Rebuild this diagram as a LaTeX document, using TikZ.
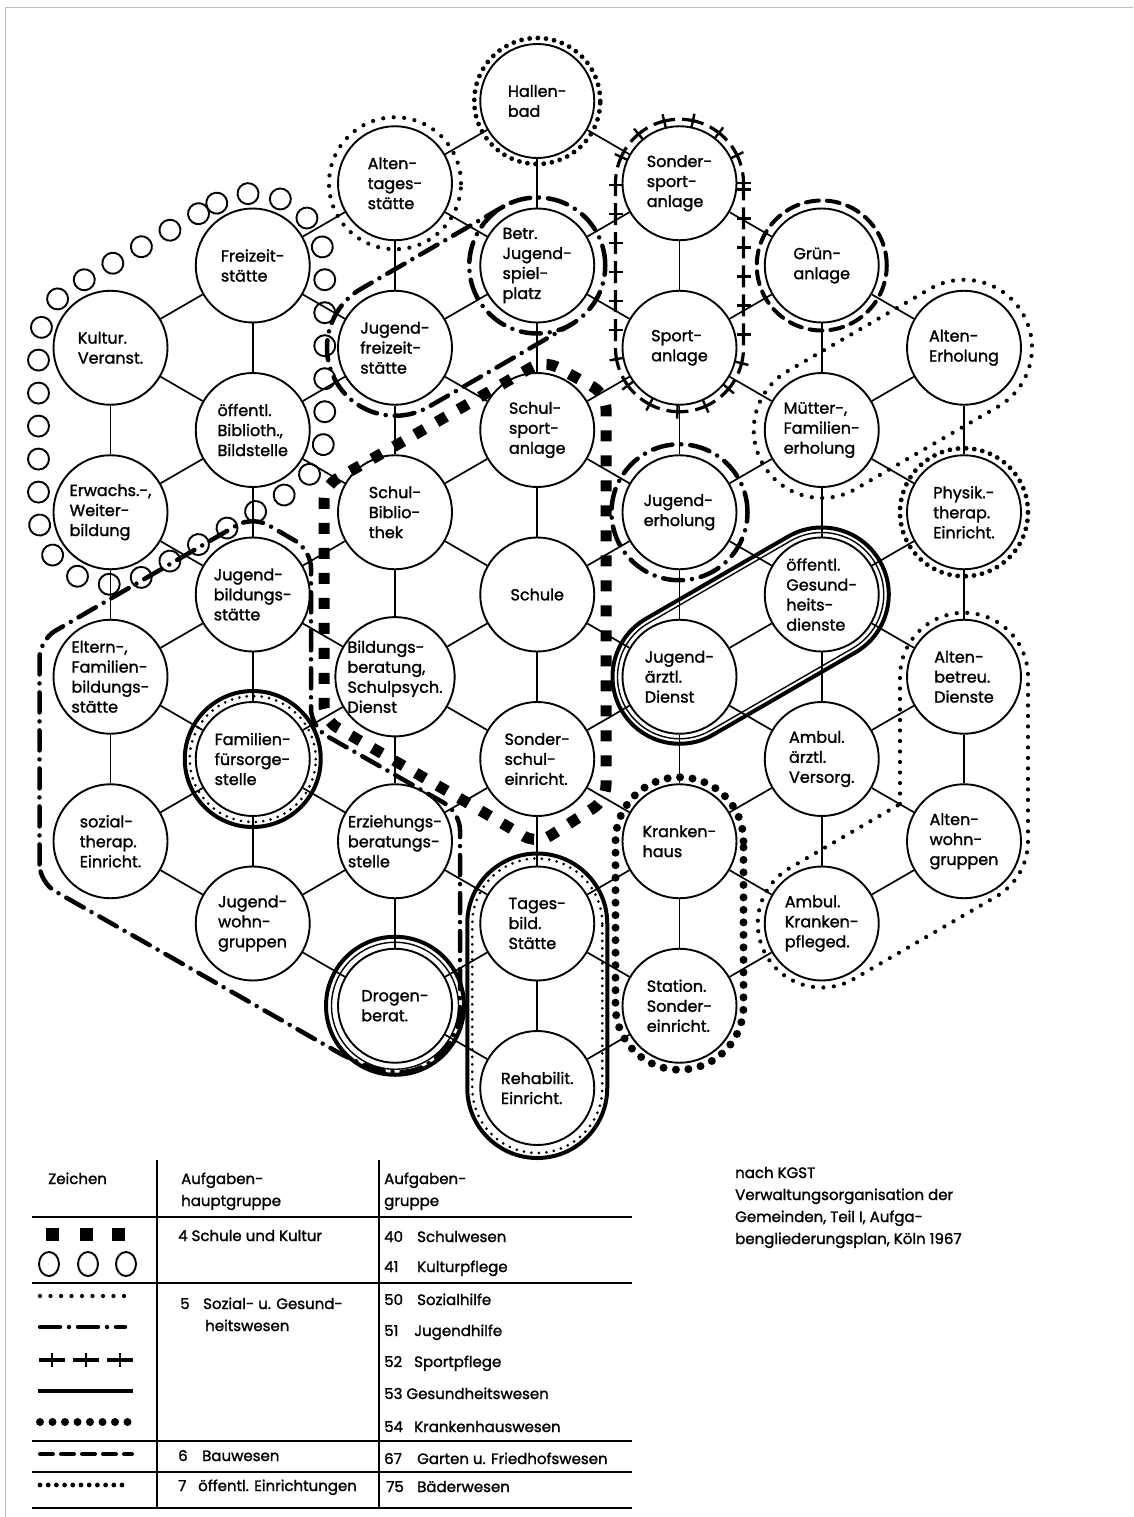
\documentclass[tikz,border=0pt]{standalone}
\usepackage{fontspec}
\setmainfont{Poppins}[FakeBold=1.5]
\usetikzlibrary{calc,decorations.markings}
\tikzset{
  nd/.style={circle, draw, line width=1.9pt, minimum size=114pt, inner sep=0pt, fill=white, align=left, font=\fontsize{16}{20}\selectfont},
  ed/.style={line width=1.7pt},
  sq/.style={line width=11pt, dash pattern=on 11pt off 14pt},
  sozdot/.style={line width=4.2pt, line cap=round, dash pattern=on 0pt off 10.5pt},
  baddot/.style={line width=4.8pt, line cap=round, dash pattern=on 0pt off 8.2pt},
  bigdot/.style={line width=8pt, line cap=round, dash pattern=on 0pt off 12.5pt},
  jdash/.style={line width=4.5pt, line cap=round, dash pattern=on 20pt off 9pt on 0pt off 9pt},
  gdash/.style={line width=4pt, line cap=round, dash pattern=on 13pt off 8pt},
  thickfour/.style={line width=4pt},
  thinone/.style={line width=1.4pt},
  combdot/.style={line width=3pt, line cap=round, dash pattern=on 0pt off 7.5pt},
  plusline/.style={line width=3.2pt, dash pattern=on 11pt off 7pt on 11pt off 0pt,
     postaction={decorate, decoration={markings, mark=between positions 0 and 1 step 29pt with {\draw[solid, line width=2.4pt] (0,-7pt) -- (0,7pt);}}}},
  kultring/.style={decorate, decoration={markings, mark=between positions 0 and 1 step 33pt with {\draw[solid, line width=1.9pt] (0,0) circle (10.5pt);}}},
  lg/.style={anchor=base west, font=\fontsize{15}{20}\selectfont, inner sep=0pt},
}
\begin{document}
\begin{tikzpicture}[x=1pt,y=1pt]
\useasboundingbox (0,0) rectangle (1133,-1517);
\draw[black!25, line width=1pt] (5,-1517) -- (5,-8) -- (1133,-8);

% ---------- nodes ----------
\node[nd] (hb) at (537.25,-101) {Hallen-\\bad};
\node[nd] (alt) at (395,-183.25) {Alten-\\tages-\\stätte};
\node[nd] (ss) at (679.5,-183.25) {Sonder-\\sport-\\anlage};
\node[nd] (fz) at (252.75,-265.5) {Freizeit-\\stätte};
\node[nd] (bj) at (537.25,-265.5) {Betr.\\Jugend-\\spiel-\\platz};
\node[nd] (gr) at (821.75,-265.5) {Grün-\\anlage};
\node[nd] (kv) at (110.5,-347.75) {Kultur.\\Veranst.};
\node[nd] (jf) at (395,-347.75) {Jugend-\\freizeit-\\stätte};
\node[nd] (sa) at (679.5,-347.75) {Sport-\\anlage};
\node[nd] (ae) at (964,-347.75) {Alten-\\Erholung};
\node[nd] (ob) at (252.75,-430) {öffentl.\\Biblioth.,\\Bildstelle};
\node[nd] (sp) at (537.25,-430) {Schul-\\sport-\\anlage};
\node[nd] (mf) at (821.75,-430) {Mütter-,\\Familien-\\erholung};
\node[nd] (ew) at (110.5,-512.25) {Erwachs.-,\\Weiter-\\bildung};
\node[nd] (sb) at (395,-512.25) {Schul-\\Biblio-\\thek};
\node[nd] (je) at (679.5,-512.25) {Jugend-\\erholung};
\node[nd] (pt) at (964,-512.25) {Physik.-\\therap.\\Einricht.};
\node[nd] (jb) at (252.75,-594.5) {Jugend-\\bildungs-\\stätte};
\node[nd] (su) at (537.25,-594.5) {Schule};
\node[nd] (og) at (821.75,-594.5) {öffentl.\\Gesund-\\heits-\\dienste};
\node[nd] (el) at (110.5,-676.75) {Eltern-,\\Familien-\\bildungs-\\stätte};
\node[nd] (bb) at (395,-676.75) {Bildungs-\\beratung,\\Schulpsych.\\Dienst};
\node[nd] (ja) at (679.5,-676.75) {Jugend-\\ärztl.\\Dienst};
\node[nd] (ab) at (964,-676.75) {Alten-\\betreu.\\Dienste};
\node[nd] (ff) at (252.75,-759) {Familien-\\fürsorge-\\stelle};
\node[nd] (sc) at (537.25,-759) {Sonder-\\schul-\\einricht.};
\node[nd] (aa) at (821.75,-759) {Ambul.\\ärztl.\\Versorg.};
\node[nd] (st) at (110.5,-841.25) {sozial-\\therap.\\Einricht.};
\node[nd] (eb) at (395,-841.25) {Erziehungs-\\beratungs-\\stelle};
\node[nd] (kh) at (679.5,-841.25) {Kranken-\\haus};
\node[nd] (aw) at (964,-841.25) {Alten-\\wohn-\\gruppen};
\node[nd] (jw) at (252.75,-923.5) {Jugend-\\wohn-\\gruppen};
\node[nd] (tb) at (537.25,-923.5) {Tages-\\bild.\\Stätte};
\node[nd] (ak) at (821.75,-923.5) {Ambul.\\Kranken-\\pfleged.};
\node[nd] (db) at (395,-1005.75) {Drogen-\\berat.};
\node[nd] (sto) at (679.5,-1005.75) {Station.\\Sonder-\\einricht.};
\node[nd] (rh) at (537.25,-1088) {Rehabilit.\\Einricht.};

% ---------- connectors ----------
\foreach \a/\b in {kv/ew, ew/el, el/st, fz/ob, ob/jb, jb/ff, ff/jw,
  alt/jf, jf/sb, sb/bb, bb/eb, eb/db, hb/bj, bj/sp, sp/su, su/sc, sc/tb, tb/rh,
  ss/sa, sa/je, je/ja, ja/kh, kh/sto, gr/mf, mf/og, og/aa, aa/ak, ae/pt, pt/ab, ab/aw,
  kv/fz, kv/ob, ew/ob, ew/jb, el/jb, el/ff, st/ff, st/jw,
  fz/alt, fz/jf, ob/jf, ob/sb, jb/sb, jb/bb, ff/bb, ff/eb, jw/eb, jw/db,
  alt/hb, alt/bj, jf/bj, jf/sp, sb/sp, sb/su, bb/su, bb/sc, eb/sc, eb/tb, db/tb, db/rh,
  hb/ss, bj/ss, bj/sa, sp/sa, sp/je, su/je, su/ja, sc/ja, sc/kh, tb/kh, tb/sto, rh/sto,
  ss/gr, sa/gr, sa/mf, je/mf, je/og, ja/og, ja/aa, kh/aa, kh/ak, sto/ak,
  gr/ae, mf/ae, mf/pt, og/pt, og/ab, aa/ab, aa/aw, ak/aw}
  \draw[ed] (\a) -- (\b);

% ---------- group outlines ----------
% 40 Schulwesen (squares)
\draw[sq, rounded corners=15pt] (402,-442) -- (544,-360) -- (606,-394) -- (606,-800) -- (537.25,-844) -- (466,-802) -- (395,-761) -- (324,-720) -- (324,-486) -- cycle;

% 41 Kulturpflege (circles)
\path[kultring] ($(fz)+(120:72)$) arc[start angle=120,end angle=0,radius=72] -- ($(ob)+(0:72)$) arc[start angle=0,end angle=-60,radius=72] -- ($(ew)+(-60:72)$) arc[start angle=-60,end angle=-180,radius=72] -- ($(kv)+(180:72)$) arc[start angle=180,end angle=120,radius=72] -- cycle;

% 51 Jugendhilfe (dash-dot)
\draw[jdash, rounded corners=18pt] (39.5,-882.4) -- (39.5,-640) -- (252.75,-516) -- (311,-550) -- (311,-727) -- (460,-812) -- (460,-1030) -- (430,-1066) -- (395,-1075) -- (355,-1062) -- cycle;
\draw[jdash] ($(bj)+(120:68)$) -- ($(jf)+(120:68)$) arc[start angle=120,end angle=300,radius=68] -- ($(bj)+(300:68)$);
\draw[jdash] (bj) circle[radius=68];
\draw[jdash] (je) circle[radius=68];

% 52 Sportpflege
\draw[plusline] ($(ss)+(0:64)$) arc[start angle=0,end angle=180,radius=64] -- ($(sa)+(180:64)$) arc[start angle=180,end angle=360,radius=64] -- cycle;

% 67 Garten
\draw[gdash] (gr) circle[radius=65];

% 75 Baeder
\draw[baddot] (hb) circle[radius=63];
\draw[baddot] (pt) circle[radius=64];

% 50 Sozialhilfe
\draw[sozdot] (alt) circle[radius=66];
\draw[sozdot] ($(mf)+(120:68)$) arc[start angle=120,end angle=300,radius=68] -- ($(ae)+(-60:68)$) arc[start angle=-60,end angle=120,radius=68] -- cycle;
\draw[sozdot] (900,-804) -- ($(ab)+(180:64)$) arc[start angle=180,end angle=0,radius=64] -- ($(aw)+(0:64)$) arc[start angle=0,end angle=-60,radius=64] -- ($(ak)+(-60:64)$) arc[start angle=-60,end angle=-240,radius=64] -- cycle;

% 53 Gesundheitswesen
\draw[thickfour] ($(ja)+(120:67)$) arc[start angle=120,end angle=300,radius=67] -- ($(og)+(-60:67)$) arc[start angle=-60,end angle=120,radius=67] -- cycle;
\draw[thinone] ($(ja)+(120:62)$) arc[start angle=120,end angle=300,radius=62] -- ($(og)+(-60:62)$) arc[start angle=-60,end angle=120,radius=62] -- cycle;

% 54 Krankenhauswesen
\draw[bigdot] ($(kh)+(0:64)$) arc[start angle=0,end angle=180,radius=64] -- ($(sto)+(180:64)$) arc[start angle=180,end angle=360,radius=64] -- cycle;

% combined solid + dotted
\draw[thickfour] ($(tb)+(0:70)$) arc[start angle=0,end angle=180,radius=70] -- ($(rh)+(180:70)$) arc[start angle=180,end angle=360,radius=70] -- cycle;
\draw[combdot] ($(tb)+(0:65)$) arc[start angle=0,end angle=180,radius=65] -- ($(rh)+(180:65)$) arc[start angle=180,end angle=360,radius=65] -- cycle;
\draw[thickfour] (ff) circle[radius=68];
\draw[combdot] (ff) circle[radius=63];
\draw[thickfour] (db) circle[radius=69];
\draw[thinone] (db) circle[radius=63.5];

% ---------- legend table ----------
\foreach \yy in {1217,1283,1441,1472,1508}
  \draw[line width=2.2pt] (32,-\yy) -- (632,-\yy);
\draw[line width=2.2pt] (157,-1160) -- (157,-1508);
\draw[line width=2.2pt] (379,-1160) -- (379,-1508);

\node[lg] (h1) at (48,-1184) {Zeichen};
\node[lg] (h2) at (181,-1184) {Aufgaben-};
\node[lg] (h3) at (181,-1206) {hauptgruppe};
\node[lg] (h4) at (384,-1184) {Aufgaben-};
\node[lg] (h5) at (384,-1206) {gruppe};

\foreach \xx in {46,80,112} \fill (\xx,-1228) rectangle ++(13,-13);
\foreach \xx in {49,88,126} \draw[line width=1.9pt] (\xx,-1264) ellipse[x radius=10, y radius=12];
\draw[sozdot] (40,-1296) -- (130,-1296);
\draw[jdash] (40,-1327) -- (125,-1327);
\foreach \xx in {52,86,120} {
  \draw[line width=3.2pt] (\xx-13,-1360) -- (\xx+13,-1360);
  \draw[line width=2.4pt] (\xx,-1353) -- (\xx,-1367);
}
\draw[line width=4pt] (38,-1391) -- (133,-1391);
\draw[bigdot] (40,-1422) -- (133,-1422);
\draw[gdash] (40,-1454) -- (132,-1454);
\draw[baddot] (40,-1485) -- (128,-1485);

\node[lg] (g4) at (178,-1241) {4 Schule und Kultur};
\node[lg] (g5) at (180,-1309) {5};
\node[lg] (g5a) at (203,-1309) {Sozial- u. Gesund-};
\node[lg] (g5b) at (205,-1331) {heitswesen};
\node[lg] (g6) at (178,-1461) {6};
\node[lg] (g6a) at (202,-1461) {Bauwesen};
\node[lg] (g7) at (178,-1491) {7};
\node[lg] (g7a) at (198,-1491) {öffentl. Einrichtungen};

\node[lg] (n40) at (384,-1242) {40};
\node[lg] (t40) at (417,-1242) {Schulwesen};
\node[lg] (n41) at (384,-1272) {41};
\node[lg] (t41) at (417,-1272) {Kulturpflege};
\node[lg] (n50) at (384,-1305) {50};
\node[lg] (t50) at (417,-1305) {Sozialhilfe};
\node[lg] (n51) at (384,-1336) {51};
\node[lg] (t51) at (414,-1336) {Jugendhilfe};
\node[lg] (n52) at (384,-1367) {52};
\node[lg] (t52) at (414,-1367) {Sportpflege};
\node[lg] (n53) at (384,-1399) {53 Gesundheitswesen};
\node[lg] (n54) at (384,-1432) {54};
\node[lg] (t54) at (414,-1432) {Krankenhauswesen};
\node[lg] (n67) at (384,-1464) {67};
\node[lg] (t67) at (417,-1464) {Garten u. Friedhofswesen};
\node[lg] (n75) at (386,-1492) {75};
\node[lg] (t75) at (417,-1492) {Bäderwesen};

% ---------- source note ----------
\node[lg] (s1) at (735,-1178) {nach KGST};
\node[lg] (s2) at (735,-1200) {Verwaltungsorganisation der};
\node[lg] (s3) at (735,-1222) {Gemeinden, Teil I, Aufga-};
\node[lg] (s4) at (735,-1244) {bengliederungsplan, Köln 1967};
\end{tikzpicture}
\end{document}
